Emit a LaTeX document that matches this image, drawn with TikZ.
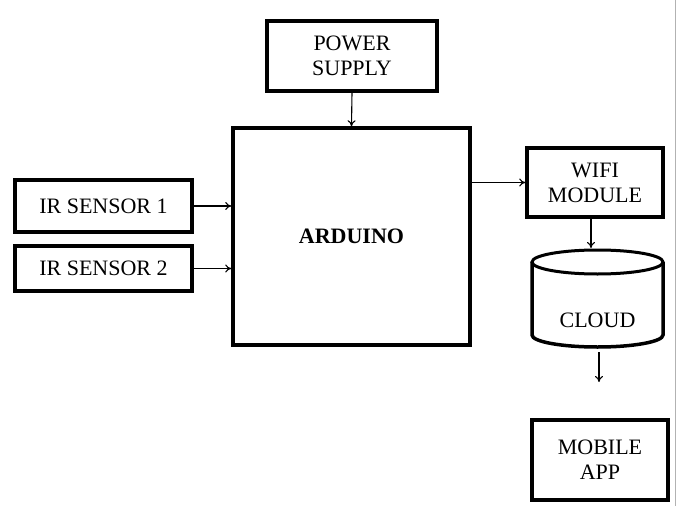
\documentclass[tikz,border=0pt]{standalone}
\usepackage{fontspec}
\setmainfont{Liberation Serif}
\usetikzlibrary{arrows.meta}
\begin{document}
\begin{tikzpicture}[x=1pt,y=-1pt,
  blk/.style={draw, line width=3.5pt, inner sep=0pt, align=center, font=\fontsize{22}{25}\selectfont},
  arr/.style={-{To[length=6pt,width=8pt]}, line width=1.1pt},
  lbl/.style={font=\fontsize{22}{25}\selectfont, align=center}]
\useasboundingbox (0,0) rectangle (678,506);
\draw[gray!60, line width=1pt] (675,0) -- (675,506);
\node[blk, minimum width=170pt, minimum height=70pt] (ps) at (352,56) {POWER\\SUPPLY};
\node[blk, minimum width=237pt, minimum height=217pt, font=\fontsize{22}{25}\selectfont\bfseries] (ard) at (351.5,236.5) {ARDUINO};
\node[blk, minimum width=177pt, minimum height=52pt] (ir1) at (103.5,206) {IR SENSOR 1};
\node[blk, minimum width=177pt, minimum height=45pt] (ir2) at (103.5,268.5) {IR SENSOR 2};
\node[blk, minimum width=136pt, minimum height=69pt] (wifi) at (595,182.5) {WIFI\\MODULE};
\node[blk, minimum width=136pt, minimum height=80pt] (app) at (600,460) {MOBILE\\APP};
% cloud cylinder
\draw[line width=3.5pt] (532,262) -- (532,335) arc[start angle=180,end angle=0,x radius=65.5,y radius=12] -- (663,262);
\draw[line width=3pt, fill=white] (597.5,262) ellipse[x radius=65.5, y radius=12];
\node[lbl] (cloud) at (597.5,320) {CLOUD};
\coordinate (ctop) at (591,248);
\coordinate (cbot) at (599,352);
\coordinate (cend) at (599,382);
\draw[arr] (ps.south) -- (ard.north);
\draw[arr] (ir1.east) -- (ard.west |- ir1.east);
\draw[arr] (ir2.east) -- (ard.west |- ir2.east);
\draw[arr] (ard.east |- wifi.west) -- (wifi.west);
\draw[arr] (wifi.south -| ctop) -- (ctop);
\draw[arr] (cbot) -- (cend);
\end{tikzpicture}
\end{document}
